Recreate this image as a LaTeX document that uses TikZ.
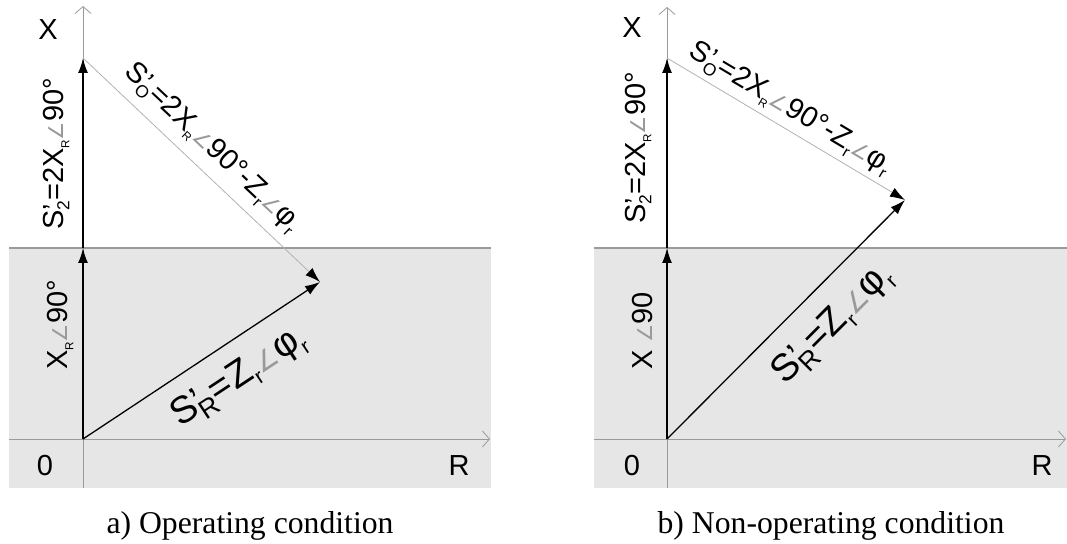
\documentclass[tikz,border=0pt]{standalone}
\usepackage{fontspec}
\setmainfont{Liberation Serif}
\newfontfamily\labfont{Liberation Sans}
\newfontfamily\angfont{DejaVu Sans}
\usetikzlibrary{arrows.meta}
\definecolor{bandgray}{HTML}{E6E6E6}
\definecolor{edgegray}{HTML}{9A9A9A}
\newcommand{\sub}[2][0.55]{\raisebox{-0.22em}{\scalebox{#1}{#2}}}
\newcommand{\ang}{{\color{gray!80}\angfont\scalebox{0.7}{∠}}}
\newcommand{\Sp}[2][0.6]{S\rlap{’}\sub[#1]{#2}}
\begin{document}
\begin{tikzpicture}[x=1pt, y=1pt,
  vec/.style={line width=1.6pt, -{Latex[length=15pt,width=10pt]}},
  axline/.style={edgegray, line width=0.8pt, -{Straight Barb[length=7pt,width=16pt]}},
  lab/.style={font=\labfont\fontsize{29}{31}\selectfont, inner sep=0pt},
  biglab/.style={font=\labfont\fontsize{38}{40}\selectfont, inner sep=0pt},
  capt/.style={font=\fontsize{31.7}{34}\selectfont, inner sep=0pt}]
\useasboundingbox (0,0) rectangle (1067,543);
% bands
\fill[bandgray] (9,55) rectangle (491,295);
\fill[bandgray] (594,55) rectangle (1067,295);
\draw[edgegray, line width=2pt] (9,295) -- (491,295) (594,295) -- (1067,295);
% a) operating
\coordinate (o1) at (83,104);
\coordinate (a1) at (83,295);
\coordinate (b1) at (83,485);
\coordinate (p1) at (320,261);
\coordinate (h1s) at (9,104);
\coordinate (h1e) at (490,104);
\coordinate (v1s) at (83,55);
\coordinate (v1e) at (83,537);
\draw[axline] (h1s) -- (h1e);
\draw[axline] (v1s) -- (v1e);
\draw[vec] (o1) -- (a1);
\draw[vec] (a1) -- (b1);
\draw[vec, line width=1.3pt] (o1) -- (p1);
\draw[gray!60, line width=0.8pt, -{Latex[black,length=15pt,width=10pt]}] (b1) -- (p1);
\node[lab] (x1) at (48,513) {X};
\node[lab] (z1) at (45,77) {0};
\node[lab] (r1) at (459,77) {R};
\node[lab, rotate=90, anchor=base] (s21) at (63,389) {\Sp{2}=2X\sub[0.4]{R}\ang 90°};
\node[lab, rotate=90, anchor=base] (xr1) at (67,218) {X\sub[0.4]{R}\ang 90°};
\node[lab, rotate=-43.4] (so1) at (212,395) {\Sp{O}=2X\sub[0.4]{R}\ang 90°-Z\sub{r}\ang φ\sub{r}};
\node[biglab, rotate=33.5] (sr1) at (239,165) {\Sp[0.7]{R}=Z\sub{r}\ang φ\sub{r}};
\node[capt, anchor=base] (c1) at (250,10) {a) Operating condition};
% b) non-operating
\coordinate (o2) at (667,104);
\coordinate (a2) at (667,295);
\coordinate (b2) at (667,485);
\coordinate (p2) at (905,343);
\coordinate (h2s) at (594,104);
\coordinate (h2e) at (1066,104);
\coordinate (v2s) at (667,55);
\coordinate (v2e) at (667,536);
\draw[axline] (h2s) -- (h2e);
\draw[axline] (v2s) -- (v2e);
\draw[vec] (o2) -- (a2);
\draw[vec] (a2) -- (b2);
\draw[vec, line width=1.3pt] (o2) -- (p2);
\draw[gray!60, line width=0.8pt, -{Latex[black,length=15pt,width=10pt]}] (b2) -- (p2);
\node[lab] (x2) at (632,515) {X};
\node[lab] (z2) at (632,77) {0};
\node[lab] (r2) at (1042,77) {R};
\node[lab, rotate=90, anchor=base] (s22) at (645,395) {\Sp{2}=2X\sub[0.4]{R}\ang 90°};
\node[lab, rotate=90, anchor=base] (xr2) at (652,212) {X \ang 90};
\node[lab, rotate=-30.8] (so2) at (790,434) {\Sp{O}=2X\sub[0.4]{R}\ang 90°-Z\sub{r}\ang φ\sub{r}};
\node[biglab, rotate=45.1] (sr2) at (833,218) {\Sp[0.7]{R}=Z\sub{r}\ang φ\sub{r}};
\node[capt, anchor=base] (c2) at (831,10) {b) Non-operating condition};
\end{tikzpicture}
\end{document}
